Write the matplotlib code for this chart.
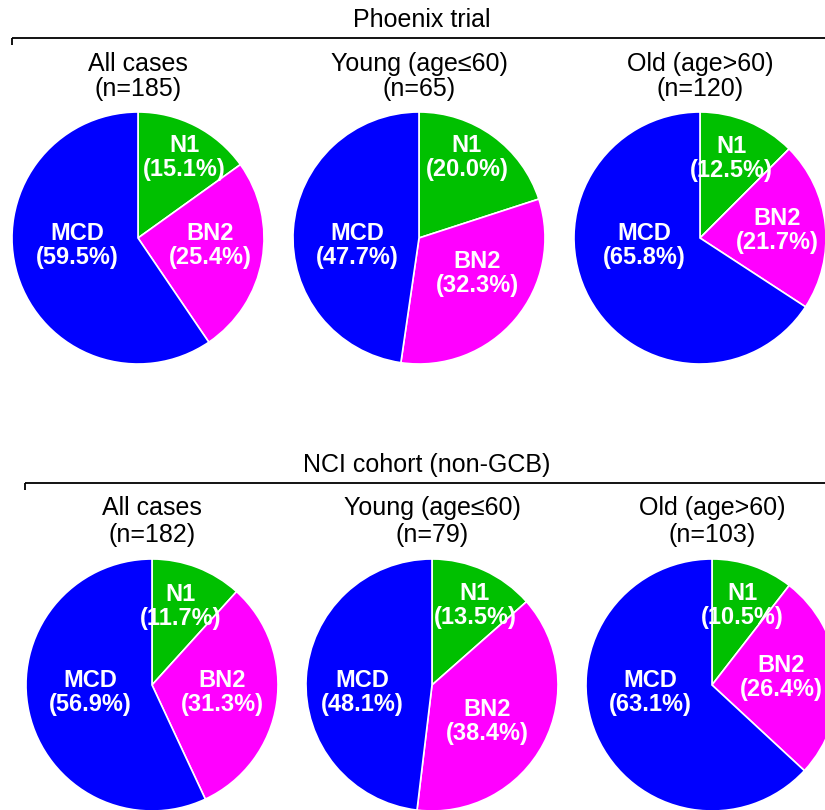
import matplotlib
matplotlib.use("Agg")
import matplotlib.pyplot as plt
from matplotlib.lines import Line2D

plt.rcParams['font.family'] = ['Liberation Sans', 'DejaVu Sans']

# ---------------- data ----------------
subgroups = ["All cases", "Young (age\u226460)", "Old (age>60)"]
subtypes = ["N1", "BN2", "MCD"]
colors = ["#00C000", "#FF00FF", "#0000FF"]

phoenix_title = "Phoenix trial"
phoenix_n = [185, 65, 120]
phoenix_n1 = [15.1, 20.0, 12.5]
phoenix_bn2 = [25.4, 32.3, 21.7]
phoenix_mcd = [59.5, 47.7, 65.8]

nci_title = "NCI cohort (non-GCB)"
nci_n = [182, 79, 103]
nci_n1 = [11.7, 13.5, 10.5]
nci_bn2 = [31.3, 38.4, 26.4]
nci_mcd = [56.9, 48.1, 63.1]

# ---------------- layout (pixels) ----------------
W, H = 825, 810
R = 126
rows = [
    dict(title=phoenix_title, n=phoenix_n, vals=(phoenix_n1, phoenix_bn2, phoenix_mcd),
         cxs=[138, 419, 700], cy=238, title_xy=(422, 20), line_y=38, line_x0=12,
         sub1_y=64, sub2_y=89,
         lab=[[(0.37, 0.64), (0.57, -0.06), (-0.48, -0.06)],
              [(0.38, 0.64), (0.46, -0.28), (-0.49, -0.06)],
              [(0.25, 0.63), (0.61, 0.06), (-0.44, -0.06)]]),
    dict(title=nci_title, n=nci_n, vals=(nci_n1, nci_bn2, nci_mcd),
         cxs=[152, 432, 712], cy=685, title_xy=(427, 465), line_y=483, line_x0=25,
         sub1_y=508, sub2_y=535,
         lab=[[(0.23, 0.62), (0.56, -0.06), (-0.49, -0.06)],
              [(0.34, 0.63), (0.44, -0.29), (-0.55, -0.06)],
              [(0.24, 0.63), (0.55, 0.06), (-0.49, -0.06)]]),
]

fig = plt.figure(figsize=(W / 100, H / 100), dpi=100)
fig.patch.set_facecolor("white")


def fx(x):
    return x / W


def fy(y):
    return 1 - y / H


for row in rows:
    # header text and bracket line
    fig.text(fx(row["title_xy"][0]), fy(row["title_xy"][1]), row["title"],
             ha="center", va="center", fontsize=18, color="black")
    ly = row["line_y"]
    fig.add_artist(Line2D([fx(row["line_x0"]), fx(W + 5)], [fy(ly), fy(ly)],
                          color="black", lw=1.3, solid_capstyle="butt"))
    fig.add_artist(Line2D([fx(row["line_x0"]), fx(row["line_x0"])], [fy(ly), fy(ly + 7)],
                          color="black", lw=1.3, solid_capstyle="butt"))

    for i, cx in enumerate(row["cxs"]):
        cy = row["cy"]
        fig.text(fx(cx), fy(row["sub1_y"]), subgroups[i], ha="center", va="center",
                 fontsize=18, color="black")
        fig.text(fx(cx), fy(row["sub2_y"]), f"(n={row['n'][i]})", ha="center", va="center",
                 fontsize=18, color="black")

        ax = fig.add_axes([fx(cx - R), fy(cy + R), (2 * R) / W, (2 * R) / H])
        vals = [row["vals"][k][i] for k in range(3)]
        ax.pie(vals, colors=colors, startangle=90, counterclock=False, radius=1,
               wedgeprops=dict(edgecolor="white", linewidth=1.2))
        ax.set_xlim(-1, 1)
        ax.set_ylim(-1, 1)
        ax.set_aspect("equal")
        ax.axis("off")
        for k in range(3):
            tx, ty = row["lab"][i][k]
            ax.text(tx, ty, f"{subtypes[k]}\n({vals[k]:.1f}%)", ha="center", va="center",
                    fontsize=17, fontweight="bold", color="white", linespacing=1.05)

fig.savefig("out.png", dpi=100)
